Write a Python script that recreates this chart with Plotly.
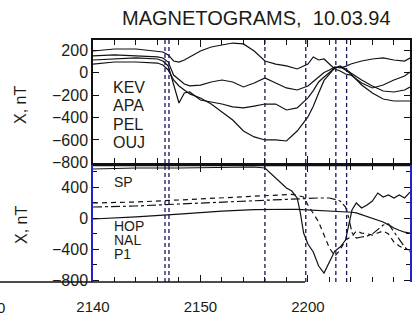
import plotly.graph_objects as go

# ---------------- data (minutes after 21:00 UT, X component in nT) ----------------
t_top = [40, 42, 44, 46, 46.5, 47, 47.5, 48, 48.5, 49, 50, 51, 52, 53, 54, 55, 56, 57, 58, 59,
         60, 60.5, 61, 61.5, 62, 62.5, 63, 63.5, 64, 65, 66, 67, 68, 69, 69.5]
kev = [192, 210, 210, 192, 183, 157, 103, 94, 112, 139, 192, 228, 246, 263, 255, 192, 103, 76, 59, 32,
       76, 139, 112, 121, 76, 32, 14, -13, -22, -93, -137, -111, -66, -30, 5]
apa = [148, 157, 148, 139, 130, 94, -22, -66, -102, -119, -111, -84, -66, -84, -128, -93, -48, -93, -137, -155,
       -119, -80, -39, 0, 23, 50, 41, 55, 76, 103, 121, 130, 112, 103, 130]
pel = [112, 121, 130, 121, 103, 59, -111, -271, -182, -173, -244, -262, -280, -306, -315, -298, -280, -280, -333, -315,
       -226, -160, -84, -40, 5, 41, 50, 23, -13, -111, -182, -235, -253, -253, -253]
ouj = [76, 94, 94, 85, 68, 23, -66, -119, -155, -190, -226, -280, -351, -422, -520, -573, -600, -600, -609, -520,
       -395, -300, -182, -70, -13, 41, 59, 32, -4, -66, -119, -164, -173, -155, -128]

t_bot = [40, 44, 48, 52, 55, 56, 56.5, 57, 57.5, 58, 58.5, 59, 59.3, 59.6, 60, 60.5, 61, 61.5, 62, 62.5,
         63, 63.5, 63.8, 64.1, 64.5, 65, 65.5, 66, 66.5, 67, 67.5, 68, 68.5, 69, 69.5]
sp = [638, 651, 651, 664, 664, 651, 586, 522, 444, 392, 353, 263, 68, -191, -333, -437, -618, -709, -566, -424,
      -372, -281, -87, 107, 198, 133, 172, 224, 327, 276, 302, 263, 302, 263, 340]
hop = [-9, 17, 55, 94, 113, 116, 117, 118, 118, 118, 117, 115, 113, 112, 110, 106, 102, 98, 95, 91,
       88, 82, 80, 78, 70, 45, 17, 0, -25, -48, -85, -126, -155, -180, -191]
nal = [198, 211, 237, 263, 283, 289, 292, 296, 300, 302, 310, 296, 285, 276, 172, 68, -48, -217, -385, -488,
       -411, -281, -255, -235, -165, -191, -200, -217, -190, -165, -204, -307, -359, -398, -411]
p1 = [146, 159, 185, 211, 230, 237, 240, 243, 246, 250, 253, 256, 258, 260, 263, 263, 263, 263, 263, 245,
      224, 146, 4, -185, -255, -242, -230, -204, -150, -87, -74, -178, -281, -372, -437]

events = [46.7, 47.07, 56.0, 59.8, 62.6, 63.6]

top_ticks = [200, 0, -200, -400, -600, -800]
top_tick_text = ["200", "0", "\u2212200", "\u2212400", "\u2212600", "\u2212800"]
bot_ticks = [400, 0, -400, -800]
bot_tick_text = ["400", "0", "\u2212400", "\u2212800"]
time_ticks = [40, 50, 60]
time_labels = ["2140", "2150", "2200"]
top_names = ["KEV", "APA", "PEL", "OUJ"]
bot_names = ["SP", "HOP", "NAL", "P1"]

# ---------------- layout helpers ----------------
W, H = 414, 326
def fx(p):
    return p / W
def fy(p):
    return 1 - p / H

FONT = "Liberation Sans, Arial, sans-serif"
INK = "#1c1c14"
BLUE = "#2323c8"
NAVY = "#16165a"

fig = go.Figure()

for vals in [kev, apa, pel, ouj]:
    fig.add_trace(go.Scatter(x=t_top, y=vals, mode="lines", xaxis="x", yaxis="y",
                             line=dict(color="#111111", width=1.2), showlegend=False, hoverinfo="skip"))

bot_styles = [("solid", sp), ("solid", hop), ("5px,4px", nal), ("dashdot", p1)]
for dash, vals in bot_styles:
    fig.add_trace(go.Scatter(x=t_bot, y=vals, mode="lines", xaxis="x2", yaxis="y2",
                             line=dict(color="#111111", width=1.2, dash=dash), showlegend=False, hoverinfo="skip"))

xdom = [fx(93), fx(410)]
common_x = dict(domain=xdom, range=[40, 69.5], showgrid=False, zeroline=False,
                ticks="inside", ticklen=7, tickcolor="#111111", tickwidth=1.2,
                tickvals=time_ticks, mirror="ticks",
                minor=dict(dtick=2, tick0=40, ticks="inside", ticklen=5, tickcolor="#111111"))

fig.update_layout(
    width=W, height=H, autosize=False,
    margin=dict(l=0, r=0, t=0, b=0, autoexpand=False),
    paper_bgcolor="white", plot_bgcolor="white",
    font=dict(family=FONT, color=INK, size=16),
    xaxis=dict(**common_x, anchor="y", showline=True, linecolor="#111111", linewidth=1.5,
               showticklabels=False),
    yaxis=dict(domain=[fy(163), fy(40)], range=[-805, 290], anchor="x",
               showgrid=False, zeroline=False, showline=True, linecolor="#111111", linewidth=1.5,
               mirror="ticks", ticks="inside", ticklen=6, tickcolor="#111111",
               tickvals=top_ticks, ticktext=top_tick_text, tickfont=dict(size=16, color=INK)),
    xaxis2=dict(**common_x, anchor="y2", showline=False,
                ticktext=time_labels, tickfont=dict(size=15, color=INK), ticklabelstandoff=14),
    yaxis2=dict(domain=[fy(282), fy(165)], range=[-825, 690], anchor="x2",
                showgrid=False, zeroline=False, showline=True, linecolor=BLUE, linewidth=1.5,
                mirror="ticks", ticks="inside", ticklen=6, tickcolor="#111111",
                tickvals=bot_ticks, ticktext=bot_tick_text, tickfont=dict(size=16, color=INK),
                minor=dict(dtick=200, ticks="inside", ticklen=4, tickcolor="#111111")),
)

shapes = []
for t in events:
    for xr, yr in [("x", "y domain"), ("x2", "y2 domain")]:
        shapes.append(dict(type="line", xref=xr, yref=yr, x0=t, x1=t, y0=0, y1=1,
                           line=dict(color=NAVY, width=1.3, dash="4px,3px")))
# horizontal frame lines of the lower panel (top edge, and the scanned bottom rule)
shapes.append(dict(type="line", xref="paper", yref="paper", x0=fx(93), x1=fx(410), y0=fy(165.5), y1=fy(165.5),
                   line=dict(color="#111111", width=1.6)))
shapes.append(dict(type="line", xref="paper", yref="paper", x0=0, x1=fx(305), y0=fy(282), y1=fy(282),
                   line=dict(color="#111111", width=1.5)))
fig.update_layout(shapes=shapes)

ann = []
ann.append(dict(text="MAGNETOGRAMS,  10.03.94", xref="paper", yref="paper", x=fx(256), y=fy(18),
                xanchor="center", yanchor="middle", showarrow=False, font=dict(size=20, color=INK)))
for i, nm in enumerate(top_names):
    ann.append(dict(text=nm, xref="paper", yref="paper", x=fx(111), y=fy(87 + i * 18.5),
                    xanchor="left", yanchor="middle", showarrow=False, font=dict(size=16, color=INK)))
bot_y = [182, 226, 240, 254]
for nm, yy in zip(bot_names, bot_y):
    ann.append(dict(text=nm, xref="paper", yref="paper", x=fx(112), y=fy(yy),
                    xanchor="left", yanchor="middle", showarrow=False, font=dict(size=14, color=INK)))
for yy in [105, 225]:
    ann.append(dict(text="X, nT", xref="paper", yref="paper", x=fx(21), y=fy(yy), textangle=-90,
                    xanchor="center", yanchor="middle", showarrow=False, font=dict(size=16, color=INK)))
ann.append(dict(text="2130", xref="paper", yref="paper", x=fx(-12), y=fy(307),
                xanchor="center", yanchor="middle", showarrow=False, font=dict(size=15, color=INK)))
fig.update_layout(annotations=ann)

fig.write_html("out.html", config={"displayModeBar": False},
               post_script="document.body.style.margin='0px';")
